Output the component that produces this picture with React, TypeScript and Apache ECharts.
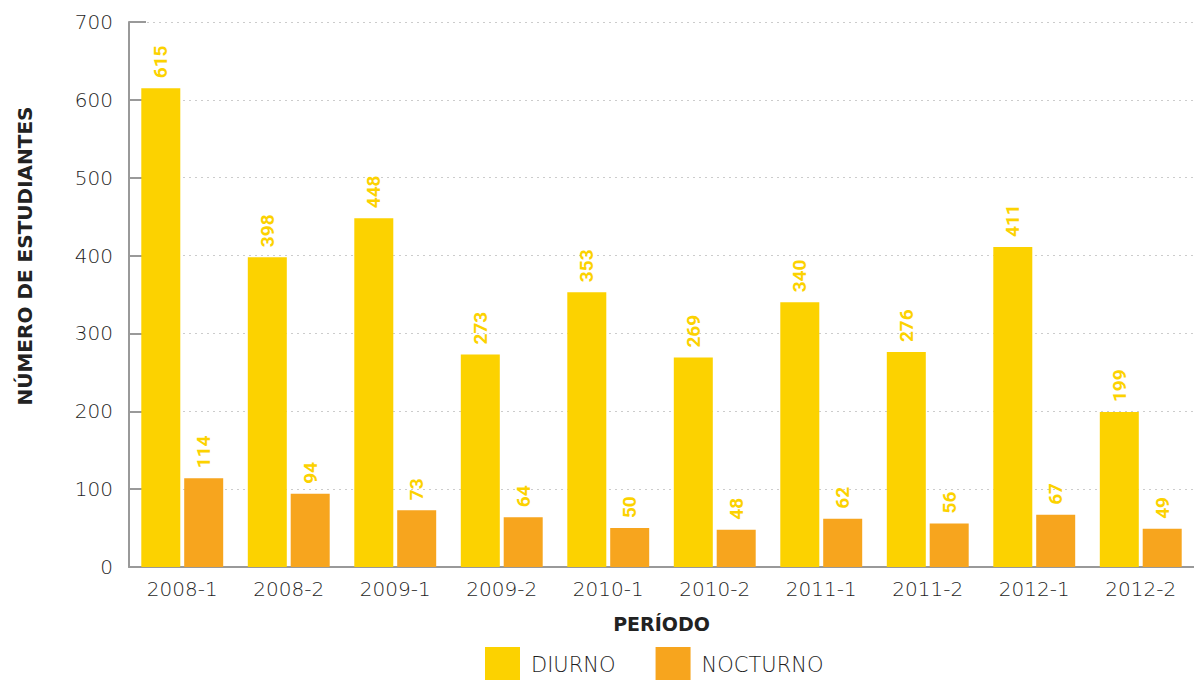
import React, { useEffect, useRef } from "react";
import * as echarts from "echarts";

const categories = ["2008-1", "2008-2", "2009-1", "2009-2", "2010-1", "2010-2", "2011-1", "2011-2", "2012-1", "2012-2"];
const diurno = [615, 398, 448, 273, 353, 269, 340, 276, 411, 199];
const nocturno = [114, 94, 73, 64, 50, 48, 62, 56, 67, 49];
const yTicks = { min: 0, max: 700, interval: 100 };

const YELLOW = "#FCD200";
const ORANGE = "#F7A51E";
const FONT = "DejaVu Sans";
const LABEL_FONT = "Roboto";
const TEXT = "#1e1e1e";

export default function App() {
  const ref = useRef<HTMLDivElement>(null);
  useEffect(() => {
    document.body.style.margin = "0";
    const chart = echarts.init(ref.current!, null, { renderer: "svg" });
    const label = {
      show: true,
      position: "top",
      rotate: 90,
      align: "left",
      verticalAlign: "middle",
      distance: 10,
      color: YELLOW,
      fontFamily: LABEL_FONT,
      fontWeight: "bold",
      fontSize: 19,
    };
    chart.setOption({
      animation: false,
      textStyle: { fontFamily: FONT },
      grid: { left: 129, right: 0, top: 22, bottom: 113, containLabel: false },
      legend: {
        top: 647,
        left: 485,
        padding: 0,
        itemWidth: 35,
        itemHeight: 35,
        itemGap: 40,
        icon: "rect",
        textStyle: { fontSize: 21, fontWeight: 200, color: TEXT, fontFamily: FONT, padding: [0, 0, 0, 6] },
        data: ["DIURNO", "NOCTURNO"],
      },
      xAxis: {
        type: "category",
        data: categories,
        name: "PERÍODO",
        nameLocation: "middle",
        nameGap: 47,
        nameTextStyle: { fontSize: 19, fontWeight: "bold", color: "#222", fontFamily: FONT },
        axisLine: { lineStyle: { color: "#999", width: 2 } },
        axisTick: { inside: true, length: 13, lineStyle: { color: "#999", width: 2 } },
        axisLabel: { fontSize: 20, fontWeight: 200, color: TEXT, margin: 12, fontFamily: FONT },
      },
      yAxis: {
        type: "value",
        min: yTicks.min,
        max: yTicks.max,
        interval: yTicks.interval,
        axisLine: { show: true, lineStyle: { color: "#999", width: 2 } },
        axisTick: { show: true, inside: true, length: 17, lineStyle: { color: "#999", width: 2 } },
        axisLabel: { fontSize: 20, fontWeight: 200, color: TEXT, margin: 16, fontFamily: FONT },
        splitLine: { show: true, lineStyle: { color: "#ccc", type: [2, 4], width: 1 } },
      },
      graphic: [
        {
          type: "text",
          x: 25,
          y: 256,
          rotation: Math.PI / 2,
          style: {
            text: "NÚMERO DE ESTUDIANTES",
            fontSize: 20,
            fontWeight: "bold",
            fill: "#222",
            fontFamily: FONT,
            align: "center",
            verticalAlign: "middle",
          },
        },
      ],
      series: [
        {
          name: "DIURNO",
          type: "bar",
          data: diurno,
          barWidth: 39,
          barGap: "10%",
          itemStyle: { color: YELLOW },
          label,
        },
        {
          name: "NOCTURNO",
          type: "bar",
          data: nocturno,
          barWidth: 39,
          barGap: "10%",
          itemStyle: { color: ORANGE },
          label,
        },
      ],
    });
    return () => chart.dispose();
  }, []);
  return <div ref={ref} style={{ position: "absolute", left: 0, top: 0, width: 1194, height: 680 }} />;
}
